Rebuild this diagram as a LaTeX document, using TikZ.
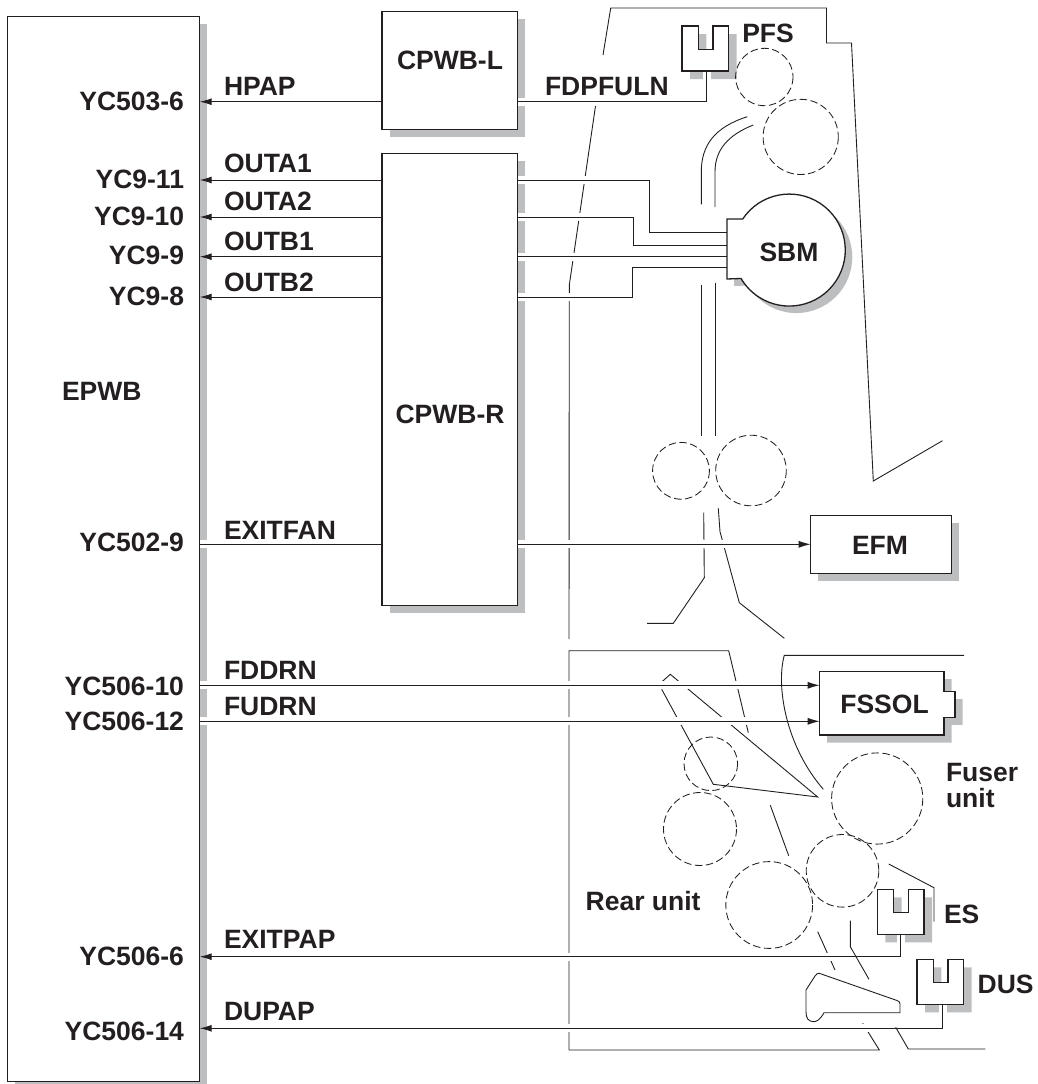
\documentclass[tikz,border=0pt]{standalone}
\usepackage{fontspec}
\setmainfont{Liberation Sans}
\usetikzlibrary{arrows.meta,calc}
\definecolor{ink}{HTML}{231F20}
\definecolor{shadowgray}{HTML}{BCBEC0}
\pgfdeclarelayer{shad}\pgfdeclarelayer{mach}\pgfdeclarelayer{halo}\pgfdeclarelayer{wire}
\pgfsetlayers{shad,mach,halo,wire,main}
\tikzset{
  box/.style={draw=ink,fill=white,line width=1.3pt,inner sep=0pt,outer sep=0pt,anchor=north west},
  lab/.style={anchor=base west,inner sep=0pt,outer sep=0pt,text=ink,font=\fontsize{26.5}{30}\selectfont\bfseries},
  labr/.style={lab,anchor=base east},
  labc/.style={lab,anchor=base},
  sh/.style={fill=shadowgray,draw=none},
  thin line/.style={draw=ink,line width=0.9pt,line join=miter},
  roller/.style={draw=ink,line width=0.85pt,dash pattern=on 7.5pt off 3.5pt},
  wireline/.style={draw=ink,line width=1pt},
  arrowline/.style={wireline,-{Latex[length=12pt,width=7pt]}},
  halowire/.style={draw=white,line width=8pt},
  sensorbody/.style={draw=ink,fill=white,line width=1.2pt},
}
\newcommand\sensorpath{(0,0) -- (16.3,0) -- (16.3,23.3) -- (31,23.3) -- (31,0) -- (46.7,0) -- (46.7,45) -- (0,45) -- cycle}
\newcommand\sbmpath{(727,219) -- (742.7,219) arc[start angle=-146.3,end angle=149.5,radius=56] -- (727,279) -- cycle}
\newcommand\fssolpath{(819.7,671.7) -- (944,671.7) -- (944,691.7) -- (955,691.7) -- (955,717.3) -- (944,717.3) -- (944,735) -- (819.7,735) -- cycle}
\begin{document}
\begin{tikzpicture}[x=1pt,y=-1pt]
\useasboundingbox (0,0) rectangle (1037,1084);
% nodes
\node[box,minimum width=192.1pt,minimum height=1065pt] (epwb) at (7.6,16.7) {};
\node[box,minimum width=135.5pt,minimum height=117.6pt] (cpwbl) at (382,11.7) {};
\node[box,minimum width=135.5pt,minimum height=452pt] (cpwbr) at (382,153.3) {};
\node[box,minimum width=141pt,minimum height=57.6pt] (efm) at (810.7,515.7) {};
\coordinate (fssolw) at (819.7,700);
\coordinate (sbmw) at (727,250);
\coordinate (pfsw) at (706.7,72);
\coordinate (esw) at (900.7,934.3);
\coordinate (dusw) at (942.7,1005.3);
% shadows
\begin{pgfonlayer}{shad}
\foreach \n in {epwb,cpwbl,cpwbr,efm}
  \fill[sh] ($(\n.north west)+(7.5,7.5)$) rectangle ($(\n.south east)+(7.5,7.5)$);
\fill[sh,shift={(7.5,7.5)}] \fssolpath;
\fill[sh,shift={(7,7)}] \sbmpath;
\fill[sh,shift={(690,34)}] \sensorpath;
\fill[sh,shift={(885.3,897.3)}] \sensorpath;
\fill[sh,shift={(925,967.3)}] \sensorpath;
\end{pgfonlayer}
% machine outline
\begin{pgfonlayer}{mach}
\draw[thin line] (603,55) -- (610.7,8) -- (826.5,8) -- (826.5,43) -- (851.5,43) -- (873.3,481) -- (942.5,440.7);
\draw[thin line] (595.5,106) -- (569.3,285) -- (569,639);
\draw[thin line] (569,1050) -- (569,650.7) -- (728.7,650.7) -- (748.3,732.7);
\draw[thin line] (569,1050) -- (879.3,1050) -- (862.7,1023.3);
\draw[thin line] (747.3,116.7) .. controls (715,127) and (701.3,145) .. (701.3,171.7) -- (701.3,204.3);
\draw[thin line] (753.3,125) .. controls (728,135) and (715,150) .. (715,171.7) -- (715,207);
\draw[thin line] (701.3,285) -- (701.3,435.7);
\draw[thin line] (715,282.7) -- (715,435.7);
\draw[thin line] (703.7,512.7) -- (704.3,577.7) -- (673.3,623.3) -- (647,623.3);
\draw[thin line] (718.3,508.3) -- (720,531.7) -- (739.3,602.7) -- (784.3,638.3);
\draw[thin line] (662,681.7) -- (670.3,674.3) -- (817.7,797) -- (713.3,784.3) -- (661.7,689.3);
\draw[thin line] (770.3,805.3) -- (788.7,855.7);
\draw[thin line] (817.7,931.7) -- (835,970);
\foreach \cx/\cy/\r in {764.3/77/28.7,800.7/136.9/37.6,681/470.8/28.4,751/470.5/35.3,710.8/763.8/26.8,700/829/36.5,877.2/798.5/45.6,842.5/870.8/36.3,769.2/905/43.4}
  \draw[roller] (\cx,\cy) circle[radius=\r];
\end{pgfonlayer}
% halos
\begin{pgfonlayer}{halo}
\draw[halowire] (cpwbl.east |- 0,101.7) -- (706.7,101.7) -- (pfsw);
\draw[halowire] (cpwbr.east |- 0,180) -- (649.7,180) -- (649.7,232.7) -- (sbmw |- 0,232.7);
\draw[halowire] (cpwbr.east |- 0,217) -- (633.7,217) -- (633.7,245) -- (sbmw |- 0,245);
\draw[halowire] (cpwbr.east |- 0,256.7) -- (sbmw |- 0,256.7);
\draw[halowire] (cpwbr.east |- 0,297) -- (632.7,297) -- (632.7,267.7) -- (sbmw |- 0,267.7);
\draw[halowire] (epwb.east |- 0,544.3) -- (cpwbr.west |- 0,544.3);
\draw[halowire] (cpwbr.east |- 0,544.3) -- (efm.west |- 0,544.3);
\draw[halowire] (epwb.east |- 0,685.3) -- (fssolw |- 0,685.3);
\draw[halowire] (epwb.east |- 0,721.3) -- (fssolw |- 0,721.3);
\draw[halowire] (esw) -- (900.7,956.7) -- (215,956.7);
\draw[halowire] (dusw) -- (942.7,1028.3) -- (215,1028.3);
\end{pgfonlayer}
% wires
\begin{pgfonlayer}{wire}
\draw[thin line] (964,655.3) -- (784.3,655.3) .. controls (776,685) and (785,745) .. (823.3,789.3);
\draw[thin line] (895.7,1027.3) -- (908.3,1049) -- (985.3,1049);
\draw[thin line] (850.3,920.7) -- (850.3,946.7) -- (869,979.3);
\draw[thin line] (888.7,864) -- (934,887.7) -- (934,921.7);
\draw[arrowline] (cpwbl.west |- 0,101.7) -- (epwb.east |- 0,101.7);
\draw[arrowline] (cpwbr.west |- 0,180) -- (epwb.east |- 0,180);
\draw[arrowline] (cpwbr.west |- 0,217) -- (epwb.east |- 0,217);
\draw[arrowline] (cpwbr.west |- 0,256.7) -- (epwb.east |- 0,256.7);
\draw[arrowline] (cpwbr.west |- 0,297) -- (epwb.east |- 0,297);
\draw[wireline] (epwb.east |- 0,544.3) -- (cpwbr.west |- 0,544.3);
\draw[arrowline] (cpwbr.east |- 0,544.3) -- (efm.west |- 0,544.3);
\draw[arrowline] (epwb.east |- 0,685.3) -- (fssolw |- 0,685.3);
\draw[arrowline] (epwb.east |- 0,721.3) -- (fssolw |- 0,721.3);
\draw[arrowline] (900.7,956.7) -- (epwb.east |- 0,956.7);
\draw[wireline] (esw) -- (900.7,956.7);
\draw[arrowline] (942.7,1028.3) -- (epwb.east |- 0,1028.3);
\draw[wireline] (dusw) -- (942.7,1028.3);
\draw[wireline] (cpwbl.east |- 0,101.7) -- (706.7,101.7) -- (pfsw);
\draw[wireline] (cpwbr.east |- 0,180) -- (649.7,180) -- (649.7,232.7) -- (sbmw |- 0,232.7);
\draw[wireline] (cpwbr.east |- 0,217) -- (633.7,217) -- (633.7,245) -- (sbmw |- 0,245);
\draw[wireline] (cpwbr.east |- 0,256.7) -- (sbmw |- 0,256.7);
\draw[wireline] (cpwbr.east |- 0,297) -- (632.7,297) -- (632.7,267.7) -- (sbmw |- 0,267.7);
\end{pgfonlayer}
% device outlines
\draw[sensorbody,shift={(682,26)}] \sensorpath;
\draw[sensorbody,shift={(877.3,889.3)}] \sensorpath;
\draw[sensorbody,shift={(917,959.3)}] \sensorpath;
\draw[draw=ink,fill=white,line width=1.3pt] \sbmpath;
\draw[draw=ink,fill=white,line width=1.3pt] \fssolpath;
\draw[thin line,fill=white] (819.3,973.3) -- (897,1000.5) .. controls (899,1001.3) and (900,1002) .. (900,1004) -- (900,1012.7) -- (824,1012.7) .. controls (820,1020) and (816,1022) .. (813,1021.7) .. controls (808,1021) and (806,1018) .. (806,1012) -- (806,990) -- (815,976) .. controls (816,974) and (818,973) .. (819.3,973.3) -- cycle;
% labels
\node[labc] (tcpwbl) at (450,69.3) {CPWB-L};
\node[labc] (tcpwbr) at (450,423) {CPWB-R};
\node[lab] (tepwb) at (62,400) {EPWB};
\node[labr] (y1) at (184,110.7) {YC503-6};
\node[labr] (y2) at (184,188) {YC9-11};
\node[labr] (y3) at (184,225.7) {YC9-10};
\node[labr] (y4) at (184,264.3) {YC9-9};
\node[labr] (y5) at (184,305) {YC9-8};
\node[labr] (y6) at (184,551.7) {YC502-9};
\node[labr] (y7) at (184,695) {YC506-10};
\node[labr] (y8) at (184,730) {YC506-12};
\node[labr] (y9) at (184,965.7) {YC506-6};
\node[labr] (y10) at (184,1040) {YC506-14};
\node[lab] (l1) at (224,95) {HPAP};
\node[lab] (l2) at (224,172.3) {OUTA1};
\node[lab] (l3) at (224,210.7) {OUTA2};
\node[lab] (l4) at (224,250.7) {OUTB1};
\node[lab] (l5) at (224,291) {OUTB2};
\node[lab] (l6) at (224,539) {EXITFAN};
\node[lab] (l7) at (224,679) {FDDRN};
\node[lab] (l8) at (224,715) {FUDRN};
\node[lab] (l9) at (224,948) {EXITPAP};
\node[lab] (l10) at (224,1020.7) {DUPAP};
\node[lab] (l11) at (545,95) {FDPFULN};
\node[lab] (pfs) at (742.3,42.7) {PFS};
\node[labc] (sbm) at (789,261.7) {SBM};
\node[labc] (efmt) at (880,554.3) {EFM};
\node[labc] (fssol) at (884.5,713.3) {FSSOL};
\node[lab] (fus1) at (946,781.7) {Fuser};
\node[lab] (fus2) at (946,807.7) {unit};
\node[lab] (rear) at (585.7,910) {Rear unit};
\node[lab] (es) at (944,923.3) {ES};
\node[lab] (dus) at (977.7,993.3) {DUS};
\end{tikzpicture}
\end{document}
